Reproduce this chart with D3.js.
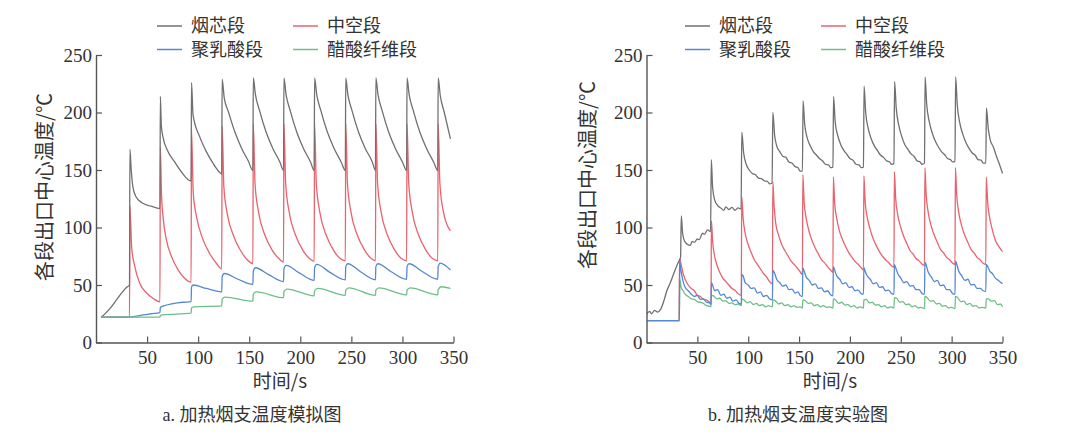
<!DOCTYPE html>
<html>
<head>
<meta charset="utf-8">
<script src="https://cdn.jsdelivr.net/npm/d3@7"></script>
<style>
  body { margin: 0; background: #fff; }
  svg { display: block; }
  .tick text { font-family: "Liberation Serif", "Noto Sans CJK SC", serif; font-size: 19px; fill: #333; }
  .lab { font-family: "Noto Sans CJK SC", sans-serif; fill: #333; }
</style>
</head>
<body>
<div id="chart"></div>
<script>
/* heated cigarette segment temperatures: simulation (a) vs experiment (b) */

let width = 1080, height = 434;

const seriesNames = ["烟芯段", "中空段", "聚乳酸段", "醋酸纤维段"];
const seriesColors = ["#707070", "#e8636d", "#5487d4", "#6cbf88"];
const xTicks = [50, 100, 150, 200, 250, 300, 350];
const yTicks = [0, 50, 100, 150, 200, 250];

// a. simulation, [time s, temperature ℃]
const simCore = [[5,22],[10,26],[15,31],[20,37],[25,43],[30,48],[32.8,50],
  [33.2,168],[34.5,150],[36,136],[39,127],[45,121.5],[54,118.5],[62.6,116.5],
  [63,214],[64,188],[65.5,179],[70,167],[77,157],[83.5,148.5],[93.1,140.5],
  [93.5,226],[95,198],[101.5,179],[108,166],[114.5,156],[121,148],[123.1,146.5],
  [123.5,229],[125.5,213],[129.5,201],[136,183],[142.5,169],[149,158],[153.6,149.5],
  [154,230],[156,216],[160,202],[166.5,183],[173,169],[180,157],[183.6,149.5],
  [184,230],[186,216],[190,202],[196.5,183],[203,169],[210,157],[213.6,149.5],
  [214,230],[216,216],[220,202],[226.5,183],[233,169],[240,157],[244.1,149.5],
  [244.5,230],[246.5,216],[250.5,202],[257,183],[263.5,169],[270.5,157],[273.6,149.5],
  [274,230],[276,216],[280,202],[286.5,183],[293,169],[300,157],[304.1,149.5],
  [304.5,230],[306.5,216],[310.5,202],[317,183],[323.5,169],[330.5,157],[334.6,149.5],
  [335,230],[337,215],[341,200],[347,177]];
const simHollow = [[5,22],[32.8,22],[33.2,119],[34.9,83],[38,66],[43,51],[49.5,43],[56,38.3],[62.6,35.3],
  [63,170],[64.1,130],[65.7,109],[69,89],[74,74.5],[80.5,63],[87,55.7],[93.1,52.5],
  [93.5,185],[95.2,130],[98.5,109],[105,89],[111.5,77],[118,68.7],[123.1,64],
  [123.5,188],[125.2,135],[128.5,112],[135,92],[141.5,80],[148,72],[153.6,68.5],
  [154,190],[155.7,138],[159,114],[165.5,93],[172,81],[179,73],[183.6,70],
  [184,190],[185.7,138],[189,114],[195.5,93],[202,81],[209,73],[213.6,70.5],
  [214,190],[215.7,138],[219,114],[225.5,93],[232,81],[239,73],[244.1,71],
  [244.5,190],[246.2,138],[249.5,114],[256,93],[262.5,81],[269.5,73],[273.6,71],
  [274,190],[275.7,138],[279,114],[285.5,93],[292,81],[299,73],[304.1,71],
  [304.5,190],[306.2,138],[309.5,114],[316,93],[322.5,81],[329.5,73],[334.6,71],
  [335,190],[336.7,138],[340,114],[347,97]];
const simPla = [[5,22],[33,22],[40,23],[46,24],[54,25],[62.6,26],
  [63,30.5],[65.5,31.6],[75.5,33.9],[85,35],[93.1,35.5],
  [93.5,48],[95,50],[108,47],[119.5,44.5],[123.1,44],
  [123.5,57],[125.5,60],[139,55],[153.6,50.5],
  [154,62],[156,65],[169,59],[183.6,53],
  [184,64],[186,67],[199,60.5],[213.6,54],
  [214,65],[216,68],[229,61],[244.1,54.5],
  [244.5,66],[246.5,68.5],[259,61.5],[273.6,54.5],
  [274,66],[276,68.5],[289,61.5],[304.1,55],
  [304.5,66],[306.5,68.5],[319,62],[334.6,55],
  [335,66],[337,69],[347,63]];
const simAcetate = [[5,22],[62.6,22],[63,23.5],[65,24],[93.1,25.5],
  [93.5,30],[96,31],[123.1,31.8],
  [123.5,37.5],[126,39.5],[153.6,36],
  [154,42],[157,44],[183.6,39],
  [184,44.5],[187,46.5],[213.6,40.5],
  [214,45],[217,47],[244.1,41],
  [244.5,45.5],[247.5,47.5],[273.6,41],
  [274,45.5],[277,47.5],[304.1,41.5],
  [304.5,45.5],[307.5,47.5],[334.6,41.5],
  [335,46],[338,48.5],[347,47]];

// b. experiment
const expCore = [[0.5,25],[3,27],[5,25],[8,28],[11,26.5],[14,29],[17,36],[20,45],[23,51],[26,58],[29,65],[32,71],[33.5,74],
  [34.2,110],[35.5,95],[37.5,88],[40,85.5],[43,84.5],[45,88],[47,87],[50,90],[52,89.5],[55,95],[57,94],[60,98],[63,96.5],
  [63.7,159],[65,135],[67,124],[70,119],[73,117],[76,115],[78,118],[81,115.5],[84,117.5],[87,115],[90,117],[93,116],
  [93.7,183],[95.5,165],[98,155],[101,150],[104,147],[107,146],[110,143],[113,142.5],[116,140.5],[119,140],[121,138],[123.5,138.5],
  [124.2,200],[126,180],[128,171],[131,166],[134,162],[137,161],[140,157],[143,156],[146,153],[149,152],[151,149],[153.3,149],
  [153.9,210],[155.5,190],[158,178],[161,171],[164,166],[167,163],[170,160],[173,158],[176,155],[179,154.5],[181,152],[183.3,152.5],
  [183.9,214],[185.5,192],[188,180],[191,172],[194,167],[197,163.5],[200,160],[203,158.5],[206,155],[209,154.5],[211,152],[213.3,152.5],
  [213.9,223],[215.5,200],[218,186],[221,177],[224,171],[227,167],[230,163],[233,161],[236,158],[239,157],[241,155],[243.3,155.5],
  [243.9,227],[245.5,204],[248,189],[251,179],[254,172],[257,168],[260,164],[263,162],[266,158],[269,157],[271,155],[273.3,156],
  [273.9,231],[275.5,207],[278,192],[281,182],[284,175],[287,170],[290,166],[293,163.5],[296,160],[299,159],[301,157],[303.3,157.5],
  [303.9,231],[305.5,207],[308,191],[311,181],[314,174],[317,169],[320,165],[323,163],[326,159],[329,158.5],[331,156],[333.6,156],
  [334.2,204],[336,186],[338,176],[341,170],[344,162],[347,155],[350,147]];
const expHollow = [[0.5,19],[32,19],[32.5,73],[34,68],[36,60],[38,55],[41,50],[44,47],[47,45],[50,41],[53,40],[56,37.5],[59,37],[62,35],[63.5,36],
  [63.8,106],[65,88],[67,75],[69,68],[72,61],[75,56],[78,53],[81,50],[84,47],[87,45.5],[90,42.5],[93.2,41],
  [93.6,127],[95,108],[97,95],[100,85],[103,78],[106,72],[109,68],[112,64],[115,60],[118,57],[121,53],[123.8,51],
  [124.2,140],[125.5,118],[127,104],[130,93],[133,85],[136,80],[139,75.5],[142,71],[145,68],[148,65],[151,61.5],[153.3,59],
  [153.7,146],[155,122],[157,108],[160,96],[163,88],[166,82],[169,77],[172,72],[175,69.5],[178,66],[181,63],[183.3,61],
  [183.7,144],[185,121],[187,108],[190,96],[193,89],[196,83],[199,78],[202,74],[205,70.5],[208,68],[211,65],[213.3,63],
  [213.7,145],[215,122],[217,109],[220,98],[223,90],[226,84],[229,79],[232,75],[235,72],[238,69.5],[241,66.5],[243.3,65.5],
  [243.7,148.5],[245,125],[247,111],[250,100],[253,92],[256,86],[259,80],[262,77],[265,73],[268,71],[271,68],[273.3,67],
  [273.7,152],[275,128],[277,113],[280,101],[283,93],[286,87],[289,81],[292,78],[295,74],[298,72],[301,69],[303.3,68],
  [303.7,152],[305,128],[307,113],[310,101],[313,93],[316,87],[319,81],[322,78],[325,74],[328,72],[331,69],[333.6,68],
  [334,144],[335.5,121],[337.5,108],[340,98],[343,89],[346,84],[350,79]];
const expPla = [[0.5,19],[32.3,19],[32.7,70],[34,62],[36,53],[38,48],[41,45],[44,42],[47,40],[50,41],[53,37.5],[56,38],[59,35],[62,34.5],[63.4,33],
  [63.8,52],[65,50],[67,45],[70,46],[73,41],[76,42],[79,38.5],[82,39.5],[85,36],[88,37],[91,34],[93.2,33.5],
  [93.6,59],[95,58],[97,52],[100,50],[103,47],[106,47.5],[109,43],[112,44],[115,40],[118,41],[121,38],[123.8,37],
  [124.2,63],[126,60],[128,55],[131,52],[134,49],[137,50],[140,46],[143,46.5],[146,43],[149,44],[151,41],[153.3,40],
  [153.7,65],[155,62],[157,57],[160,54],[163,50],[166,51],[169,47],[172,47.5],[175,44],[178,45],[181,41.5],[183.3,40.5],
  [183.7,66],[185,63],[187,58],[190,55],[193,51],[196,52],[199,48],[202,48.5],[205,45],[208,45.5],[211,42.5],[213.3,42],
  [213.7,65],[215,62],[217,58],[220,55],[223,51],[226,52],[229,48],[232,48.5],[235,45],[238,45.5],[241,42.5],[243.3,42],
  [243.7,68],[245,65],[247,60],[250,56],[253,52],[256,53],[259,49],[262,49.5],[265,46],[268,46],[271,42.5],[273.3,42],
  [273.7,70],[275,67],[277,61],[280,57],[283,53],[286,54],[289,49.5],[292,50],[295,46],[298,46],[301,42.5],[303.3,42],
  [303.7,71],[305,68],[307,62],[310,58],[313,54],[316,55],[319,50],[322,50.5],[325,47],[328,47],[331,45],[333.6,44.5],
  [334,68],[335.5,66],[337.5,62],[340,60],[343,56],[346,54],[350,51]];
const expAcetate = [[0.5,19],[32.3,19],[32.7,55],[34,48],[36,45],[38,42],[41,40],[44,38],[47,37.5],[50,35.5],[53,35],[56,34],[59,32],[62,31.5],[63.4,31],
  [63.8,41],[66,40.5],[69,38],[72,38.5],[75,36],[78,36.5],[81,34],[84,34.5],[87,33],[90,33.5],[93.2,32],
  [93.6,38],[96,37],[99,34.5],[102,35.5],[105,33],[108,34],[111,32],[114,33],[117,31],[120,32],[123.8,31],
  [124.2,37],[127,36],[130,33.5],[133,34.5],[136,32],[139,33],[142,31],[145,32],[148,30.5],[151,31],[153.3,30],
  [153.7,37],[156,36.5],[159,34],[162,34.5],[165,32],[168,33],[171,31],[174,32],[177,30.5],[180,31],[183.3,30],
  [183.7,38],[186,37],[189,34],[192,35],[195,32.5],[198,33],[201,31],[204,32],[207,30],[210,31],[213.3,30],
  [213.7,37],[216,37.5],[219,34.5],[222,35],[225,32.5],[228,33],[231,31],[234,32],[237,30],[240,31],[243.3,30],
  [243.7,39],[246,38.5],[249,35],[252,35.5],[255,33],[258,33.5],[261,31],[264,32],[267,30],[270,30.5],[273.3,29.5],
  [273.7,40],[276,39],[279,36],[282,36.5],[285,33.5],[288,34],[291,31.5],[294,32],[297,30],[300,30.5],[303.3,29.5],
  [303.7,40],[306,39],[309,35.5],[312,36],[315,33],[318,34],[321,31.5],[324,32],[327,30],[330,30.5],[333.6,30],
  [334,38],[336,38],[339,36],[342,36.5],[345,33],[348,33.5],[350,31]];

const svg = d3.select("#chart")
  .append("svg")
  .attr("width", width)
  .attr("height", height);

svg.append("rect").attr("width", width).attr("height", height).attr("fill", "#fff");

function panel(opt) {
  let x = d3.scaleLinear().domain([0, 350]).range([opt.x0, opt.x1]);
  let y = d3.scaleLinear().domain([0, 250]).range([342.5, 55]);
  let g = svg.append("g");

  let line = d3.line()
    .x(d => x(d[0]))
    .y(d => y(d[1]))
    .curve(d3.curveMonotoneX);

  // back to front order differs per panel (which flat line ends up on top)
  opt.order.forEach(i => {
    g.append("path")
      .datum(opt.series[i])
      .attr("d", line)
      .attr("fill", "none")
      .attr("stroke", seriesColors[i])
      .attr("stroke-width", 1.3)
      .attr("stroke-linejoin", "round");
  });

  let xAxis = g.append("g")
    .attr("transform", `translate(0,${y(0)})`)
    .call(d3.axisBottom(x).tickValues(xTicks).tickSizeInner(-6).tickSizeOuter(0).tickPadding(8));
  let yAxis = g.append("g")
    .attr("transform", `translate(${x(0)},0)`)
    .call(d3.axisLeft(y).tickValues(yTicks).tickSizeInner(-6).tickSizeOuter(0).tickPadding(4));
  [xAxis, yAxis].forEach(a => {
    a.select(".domain").attr("stroke", "#555").attr("stroke-width", 1.4);
    a.selectAll(".tick line").attr("stroke", "#555").attr("stroke-width", 1.2);
  });

  // legend
  seriesNames.forEach((name, i) => {
    let lx = i % 2 === 0 ? opt.leg[0] : opt.leg[1];
    let ly = i < 2 ? 26 : 49.5;
    g.append("line")
      .attr("x1", lx).attr("x2", lx + 25)
      .attr("y1", ly).attr("y2", ly)
      .attr("stroke", seriesColors[i]).attr("stroke-width", 1.5);
    g.append("text")
      .attr("class", "lab")
      .attr("x", lx + 34).attr("y", ly)
      .attr("dy", "0.36em")
      .style("font-size", "18px")
      .text(name);
  });

  g.append("text")
    .attr("class", "lab")
    .attr("text-anchor", "middle")
    .attr("transform", `translate(${opt.yl[0]},${opt.yl[1]}) rotate(-90)`)
    .attr("dy", "0.36em")
    .style("font-size", "20px")
    .text("各段出口中心温度/℃");

  g.append("text")
    .attr("class", "lab")
    .attr("text-anchor", "middle")
    .attr("x", opt.xl).attr("y", 381)
    .attr("dy", "0.36em")
    .style("font-size", "19px")
    .style("font-family", "'Noto Sans CJK SC', 'Liberation Serif'")
    .text("时间/s");

  g.append("text")
    .attr("class", "lab")
    .attr("text-anchor", "middle")
    .attr("x", opt.cap).attr("y", 415)
    .attr("dy", "0.36em")
    .style("font-size", "18px")
    .style("font-family", "'Liberation Serif', 'Noto Sans CJK SC'")
    .text(opt.caption);
}

panel({
  x0: 96, x1: 453.5,
  series: [simCore, simHollow, simPla, simAcetate],
  order: [1, 0, 2, 3],
  leg: [157, 293], yl: [45, 187], xl: 280, cap: 252,
  caption: "a. 加热烟支温度模拟图"
});

panel({
  x0: 646.5, x1: 1002.5,
  series: [expCore, expHollow, expPla, expAcetate],
  order: [1, 0, 3, 2],
  leg: [685, 821], yl: [588, 175], xl: 830, cap: 798,
  caption: "b. 加热烟支温度实验图"
});
</script>
</body>
</html>
